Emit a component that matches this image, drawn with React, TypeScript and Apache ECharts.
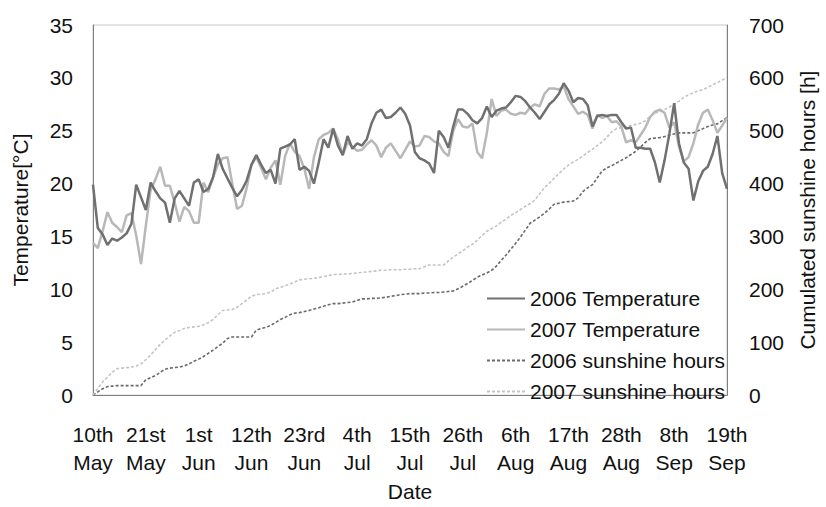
import React, { useEffect, useRef } from "react";
import * as echarts from "echarts";

const tickLabels = ["10th\nMay", "21st\nMay", "1st\nJun", "12th\nJun", "23rd\nJun", "4th\nJul", "15th\nJul", "26th\nJul", "6th\nAug", "17th\nAug", "28th\nAug", "8th\nSep", "19th\nSep"];

const temp2006 = [
  19.9, 15.8, 15.2, 14.2, 14.8, 14.6, 14.9, 15.3, 16.2, 19.9,
  18.7, 17.5, 20.1, 19.3, 18.6, 18.2, 16.3, 18.6, 19.3, 18.6,
  17.9, 20.1, 20.4, 19.2, 19.5, 20.6, 22.8, 21.4, 20.5, 19.6,
  18.8, 19.4, 20.3, 21.8, 22.7, 21.8, 21.0, 21.3, 20.0, 23.3,
  23.5, 23.7, 24.2, 21.3, 21.6, 21.2, 20.0, 22.0, 24.2, 23.4,
  25.2, 23.6, 22.7, 24.5, 23.3, 23.8, 23.6, 24.2, 25.7, 26.7,
  27.0, 26.2, 26.3, 26.7, 27.2, 26.6, 25.5, 23.0, 22.4, 22.2,
  21.9, 21.0, 25.0, 24.4, 23.4, 25.4, 27.0, 27.0, 26.6, 26.0,
  25.7, 26.2, 27.3, 26.3, 26.9, 27.1, 27.2, 27.7, 28.3, 28.2,
  27.8, 27.2, 26.7, 26.1, 26.8, 27.5, 27.9, 28.5, 29.5, 28.8,
  27.7, 28.1, 28.0, 27.4, 25.4, 26.4, 26.5, 26.4, 26.5, 26.5,
  25.8, 25.2, 25.3, 23.4, 23.4, 23.3, 23.3, 22.0, 20.1, 22.2,
  24.7, 27.6, 23.8, 22.0, 21.4, 18.4, 20.2, 21.2, 21.6, 22.8,
  24.5, 21.0, 19.5,
];

const temp2007 = [
  14.4, 13.9, 15.5, 17.3, 16.3, 15.9, 15.4, 17.0, 17.2, 15.1,
  12.4, 16.0, 19.4, 20.4, 21.6, 19.8, 19.8, 18.2, 16.4, 17.8,
  17.4, 16.3, 16.3, 20.1, 19.2, 20.6, 21.8, 22.4, 22.5, 20.0,
  17.6, 17.9, 19.6, 21.8, 22.5, 21.5, 20.4, 21.5, 22.2, 19.9,
  22.6, 23.8, 23.0, 22.6, 21.4, 19.5, 22.5, 24.2, 24.6, 24.8,
  25.2, 24.2, 22.7, 23.9, 23.5, 23.1, 23.2, 23.7, 24.1, 23.6,
  22.5, 23.4, 23.8, 23.1, 22.4, 23.2, 24.0, 23.5, 23.6, 24.5,
  24.4, 24.0, 23.8, 23.0, 22.6, 25.0, 26.1, 25.4, 25.3, 25.7,
  23.0, 22.4, 24.8, 28.0, 26.4, 26.9, 27.0, 26.6, 26.5, 26.7,
  26.6, 27.2, 27.5, 27.3, 28.5, 29.0, 29.0, 28.9, 29.2, 28.0,
  27.3, 26.6, 26.8, 26.5, 25.2, 26.5, 26.2, 26.4, 25.8, 25.9,
  25.4, 23.9, 24.1, 23.9, 24.6, 25.3, 26.3, 26.8, 27.0, 26.7,
  25.3, 25.8, 23.5, 22.1, 22.5, 23.8, 25.6, 26.7, 27.0, 26.0,
  24.8, 25.5, 26.2,
];

const sun2006 = [
  0, 6, 12, 16, 17, 18, 18, 18, 18, 18,
  18, 29, 33, 37, 43, 49, 51, 52, 53, 55,
  59, 64, 68, 73, 79, 85, 92, 98, 107, 110,
  110, 110, 110, 110, 123, 126, 128, 132, 137, 143,
  147, 152, 155, 156, 158, 160, 163, 165, 168, 171,
  173, 173, 174, 175, 176, 179, 182, 182, 183, 183,
  184, 185, 187, 188, 190, 191, 192, 192, 192, 193,
  193, 194, 194, 195, 196, 197, 201, 206, 211, 217,
  223, 227, 231, 236, 244, 255, 265, 276, 287, 299,
  312, 325, 331, 337, 344, 352, 361, 363, 365, 366,
  367, 373, 385, 392, 398, 411, 424, 430, 434, 439,
  444, 449, 455, 461, 469, 478, 485, 486, 487, 489,
  492, 494, 496, 496, 496, 496, 500, 504, 508, 511,
  513, 519, 525,
];

const sun2007 = [
  0, 13, 25, 34, 43, 50, 51, 52, 53, 55,
  59, 67, 76, 86, 96, 104, 112, 119, 122, 126,
  128, 129, 130, 133, 137, 143, 152, 160, 161, 162,
  166, 173, 180, 187, 190, 191, 192, 195, 201, 204,
  207, 210, 214, 218, 219, 220, 221, 222, 224, 226,
  228, 228, 229, 229, 230, 231, 232, 233, 234, 235,
  236, 236, 237, 237, 237, 238, 238, 239, 239, 243,
  246, 246, 246, 246, 254, 261, 267, 273, 280, 285,
  293, 302, 310, 315, 320, 327, 333, 340, 345, 351,
  357, 362, 369, 381, 392, 401, 410, 419, 428, 435,
  441, 446, 452, 459, 465, 472, 479, 488, 498, 504,
  506, 508, 510, 512, 514, 519, 527, 533, 536, 540,
  545, 550, 556, 563, 568, 572, 575, 578, 582, 587,
  591, 596, 600,
];

const days = temp2006.map((_, i) => String(i));

const FONT = "'Liberation Sans', Arial, sans-serif";
const TXT = "#111111";

export default function App() {
  const ref = useRef<HTMLDivElement>(null);
  useEffect(() => {
    if (!ref.current) return;
    const chart = echarts.init(ref.current, undefined, { renderer: "svg" });
    chart.setOption({
      animation: false,
      backgroundColor: "#ffffff",
      textStyle: { fontFamily: FONT, color: TXT },
      grid: {
        left: 93,
        right: 90,
        top: 25,
        bottom: 100,
        show: true,
        borderColor: "#c8c8c8",
        borderWidth: 1,
      },
      legend: {
        orient: "vertical",
        left: 481,
        top: 283,
        itemWidth: 38,
        itemHeight: 14,
        itemGap: 10,
        itemStyle: { opacity: 0 },
        textStyle: { fontFamily: FONT, fontSize: 21, color: TXT },
        data: ["2006 Temperature", "2007 Temperature", "2006 sunshine hours", "2007 sunshine hours"],
      },
      xAxis: {
        type: "category",
        data: days,
        boundaryGap: false,
        name: "Date",
        nameLocation: "middle",
        nameGap: 77,
        nameTextStyle: { fontFamily: FONT, fontSize: 21, color: TXT },
        axisLine: { show: true, lineStyle: { color: "#808080", width: 1 } },
        axisTick: { show: false },
        axisLabel: {
          interval: 10,
          margin: 25,
          fontFamily: FONT,
          fontSize: 21,
          lineHeight: 28,
          color: TXT,
          formatter: (_v: string, idx: number) => tickLabels[Math.round(idx / 11)] ?? "",
        },
        splitLine: { show: false },
      },
      yAxis: [
        {
          type: "value",
          min: 0,
          max: 35,
          interval: 5,
          name: "Temperature[°C]",
          nameLocation: "middle",
          nameGap: 62,
          nameRotate: 90,
          nameTextStyle: { fontFamily: FONT, fontSize: 21, color: TXT },
          axisLine: { show: true, lineStyle: { color: "#808080", width: 1 } },
          axisTick: { show: false },
          axisLabel: { fontFamily: FONT, fontSize: 21, color: TXT, margin: 20 },
          splitLine: { show: false },
        },
        {
          type: "value",
          min: 0,
          max: 700,
          interval: 100,
          name: "Cumulated sunshine hours [h]",
          nameLocation: "middle",
          nameGap: 70,
          nameRotate: 90,
          nameTextStyle: { fontFamily: FONT, fontSize: 21, color: TXT },
          axisLine: { show: true, lineStyle: { color: "#808080", width: 1 } },
          axisTick: { show: false },
          axisLabel: { fontFamily: FONT, fontSize: 21, color: TXT, margin: 22 },
          splitLine: { show: false },
        },
      ],
      series: [
        {
          name: "2006 Temperature",
          type: "line",
          yAxisIndex: 0,
          data: temp2006,
          symbol: "none",
          lineStyle: { color: "#707070", width: 2.5 },
          itemStyle: { color: "#707070" },
          z: 4,
        },
        {
          name: "2007 Temperature",
          type: "line",
          yAxisIndex: 0,
          data: temp2007,
          symbol: "none",
          lineStyle: { color: "#b8b8b8", width: 2.5 },
          itemStyle: { color: "#b8b8b8" },
          z: 3,
        },
        {
          name: "2006 sunshine hours",
          type: "line",
          yAxisIndex: 1,
          data: sun2006,
          symbol: "none",
          lineStyle: { color: "#6a6a6a", width: 1.6, type: [3, 2] },
          itemStyle: { color: "#6a6a6a" },
          z: 2,
        },
        {
          name: "2007 sunshine hours",
          type: "line",
          yAxisIndex: 1,
          data: sun2007,
          symbol: "none",
          lineStyle: { color: "#c4c4c4", width: 1.6, type: [3, 2] },
          itemStyle: { color: "#c4c4c4" },
          z: 2,
        },
      ],
    });
    return () => chart.dispose();
  }, []);
  return <div ref={ref} style={{ width: 826, height: 507, position: "absolute", left: 0, top: 0 }} />;
}
